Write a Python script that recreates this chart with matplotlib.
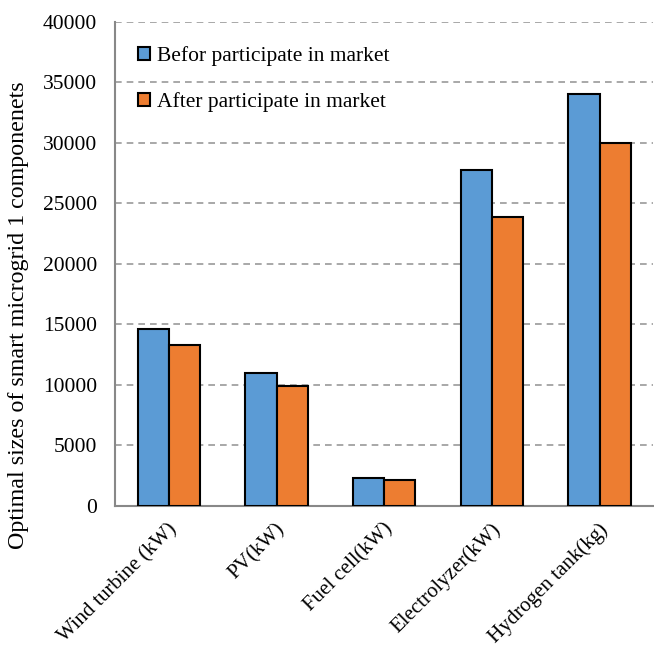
import numpy as np
import matplotlib.pyplot as plt
from matplotlib.patches import Patch
import matplotlib.transforms as mtransforms

plt.rcParams['font.family'] = ['Liberation Serif', 'DejaVu Serif']

categories = ["Wind turbine (kW)", "PV(kW)", "Fuel cell(kW)", "Electrolyzer(kW)", "Hydrogen tank(kg)"]
before = [14600, 11000, 2300, 27800, 34050]
after = [13300, 9900, 2150, 23900, 30000]
series_names = ["Befor participate in market", "After participate in market"]
yticks = np.arange(0, 40001, 5000)

fig = plt.figure(figsize=(6.54, 6.46), dpi=100)
ax = fig.add_axes([0.176, 0.217, 0.823, 0.749])

x = np.arange(len(categories))
w = 0.29
ax.bar(x - w/2, before, w, color="#5B9BD5", edgecolor="black", linewidth=1.5, zorder=3)
ax.bar(x + w/2, after, w, color="#ED7D31", edgecolor="black", linewidth=1.5, zorder=3)

ax.set_xlim(-0.5, len(categories) - 0.5)
ax.set_ylim(0, 40000)
ax.set_yticks(yticks)
ax.set_yticklabels([str(v) for v in yticks], fontsize=15.5)
ax.yaxis.grid(True, linestyle=(0, (4, 3)), color="#999999", linewidth=1.2, zorder=0)
ax.tick_params(axis="y", length=0, pad=13)
ax.tick_params(axis="x", length=0, pad=6)

ax.set_xticks(x)
ax.set_xticklabels(categories, rotation=45, ha="right", rotation_mode="anchor", fontsize=15)
offset = mtransforms.ScaledTranslation(-1/72, -4/72, fig.dpi_scale_trans)
for lab in ax.get_xticklabels():
    lab.set_transform(lab.get_transform() + offset)

for s in ["top", "right"]:
    ax.spines[s].set_visible(False)
for s in ["left", "bottom"]:
    ax.spines[s].set_color("#888888")
    ax.spines[s].set_linewidth(1.5)

ax.set_ylabel("Optimal sizes of smart microgrid 1 componenets", fontsize=17.3, labelpad=10)
ax.yaxis.label.set_y(0.395)

handles = [Patch(facecolor="#5B9BD5", edgecolor="black", linewidth=1.5),
           Patch(facecolor="#ED7D31", edgecolor="black", linewidth=1.5)]
ax.legend(handles, series_names, loc="upper left", bbox_to_anchor=(0.007, 0.99), frameon=False,
          fontsize=15.5, handlelength=0.55, handleheight=0.55, handletextpad=0.3, labelspacing=1.2)

fig.savefig("out.png", dpi=100)
